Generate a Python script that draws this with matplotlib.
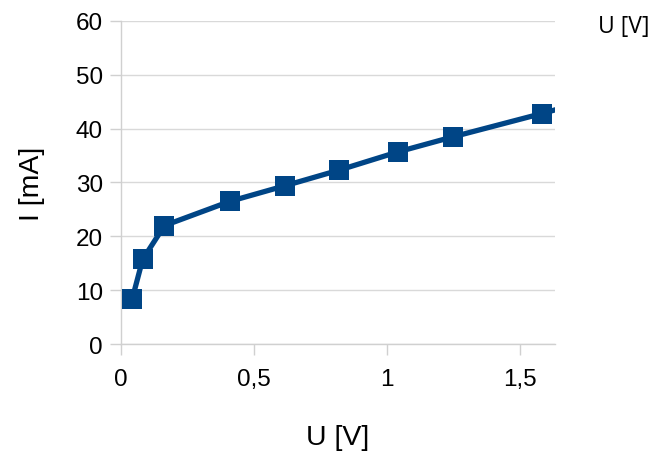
import numpy as np
import matplotlib.pyplot as plt

# measured values
u_volts = [0.042, 0.081, 0.163, 0.409, 0.616, 0.819, 1.041, 1.248, 1.580, 1.85]
i_ma = [8.4, 15.7, 22.0, 26.5, 29.4, 32.3, 35.7, 38.5, 42.8, 46.5]

x_ticks = [0, 0.5, 1, 1.5]
x_tick_labels = ["0", "0,5", "1", "1,5"]
y_ticks = [0, 10, 20, 30, 40, 50, 60]

plt.rcParams["font.family"] = ["Liberation Sans", "DejaVu Sans"]

fig = plt.figure(figsize=(6.58, 4.56), dpi=100)
ax = fig.add_axes([0.184, 0.2434, 0.6595, 0.7084])

ax.plot(u_volts, i_ma, color="#004586", lw=3.8, marker="s", ms=14,
        markeredgewidth=0, solid_joinstyle="miter", clip_on=True, zorder=3)

ax.set_xlim(0, 1.63)
ax.set_ylim(0, 60)
ax.set_xticks(x_ticks)
ax.set_xticklabels(x_tick_labels)
ax.set_yticks(y_ticks)
ax.grid(axis="y", color="#d9d9d9", lw=1)
ax.set_axisbelow(True)

for side in ["top", "right"]:
    ax.spines[side].set_visible(False)
for side in ["left", "bottom"]:
    ax.spines[side].set_color("#d0d0d0")
    ax.spines[side].set_linewidth(1)

ax.tick_params(axis="both", colors="#d0d0d0", labelcolor="black",
               labelsize=17.5, length=8, width=1)
ax.tick_params(axis="x", pad=9)
ax.tick_params(axis="y", pad=5)

ax.set_xlabel("U [V]", fontsize=20.5, labelpad=25)
ax.set_ylabel("I [mA]", fontsize=20.5, labelpad=22)

fig.text(0.909, 0.94, "U [V]", fontsize=16.5, family=["Open Sans", "DejaVu Sans"],
         ha="left", va="center")

fig.savefig("out.png", dpi=100)
